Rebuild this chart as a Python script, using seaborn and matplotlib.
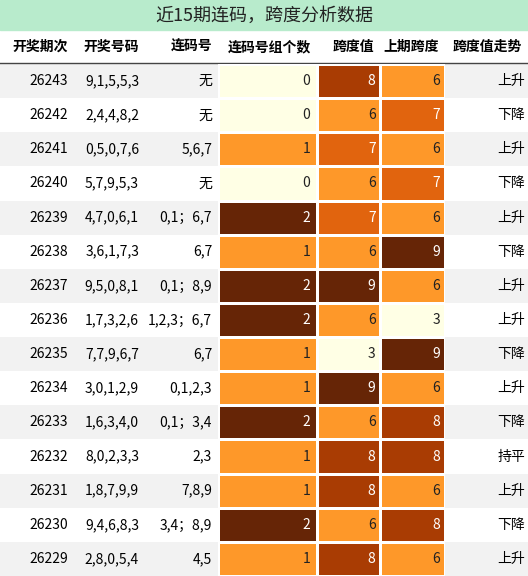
import numpy as np
import pandas as pd
import matplotlib
matplotlib.use("Agg")
import matplotlib.pyplot as plt
import seaborn as sns

plt.rcParams['font.family'] = ['Noto Sans CJK SC', 'DejaVu Sans']

title = "近15期连码，跨度分析数据"
headers = ["开奖期次", "开奖号码", "连码号", "连码号组个数", "跨度值", "上期跨度", "跨度值走势"]

issues = ["26243", "26242", "26241", "26240", "26239", "26238", "26237", "26236",
          "26235", "26234", "26233", "26232", "26231", "26230", "26229"]
draws = ["9,1,5,5,3", "2,4,4,8,2", "0,5,0,7,6", "5,7,9,5,3", "4,7,0,6,1", "3,6,1,7,3",
         "9,5,0,8,1", "1,7,3,2,6", "7,7,9,6,7", "3,0,1,2,9", "1,6,3,4,0", "8,0,2,3,3",
         "1,8,7,9,9", "9,4,6,8,3", "2,8,0,5,4"]
runs = ["无", "无", "5,6,7", "无", "0,1；6,7", "6,7", "0,1；8,9", "1,2,3；6,7",
        "6,7", "0,1,2,3", "0,1；3,4", "2,3", "7,8,9", "3,4；8,9", "4,5"]
run_groups = [0, 0, 1, 0, 2, 1, 2, 2, 1, 1, 2, 1, 1, 2, 1]
spans = [8, 6, 7, 6, 7, 6, 9, 6, 3, 9, 6, 8, 8, 6, 8]
prev_spans = [6, 7, 6, 7, 6, 9, 6, 3, 9, 6, 8, 8, 6, 8, 6]
trends = ["上升", "下降", "上升", "下降", "上升", "下降", "上升", "上升",
          "下降", "上升", "下降", "持平", "上升", "下降", "上升"]

W, H = 528, 576
edges = [0, 74, 145, 218, 317, 380, 445, 528]
title_h, head_bot = 30, 64
n = len(issues)
row_h = (H - head_bot) / n

fig = plt.figure(figsize=(W / 100, H / 100), dpi=100)
ax = fig.add_axes([0, 0, 1, 1])
ax.set_xlim(0, W)
ax.set_ylim(H, 0)
ax.axis("off")

# title bar
ax.add_patch(plt.Rectangle((0, 0), W, title_h, color="#b8ebcc"))
ax.text(W / 2, title_h / 2 + 1, title, ha="center", va="center", fontsize=13, color="#222222")

# header
for i, h in enumerate(headers):
    ax.text(edges[i + 1] - 6, (title_h + head_bot) / 2, h, ha="right", va="center",
            fontsize=10, fontweight="bold")
ax.plot([0, W], [head_bot - 1, head_bot - 1], color="#444444", lw=1)

# text columns background + text
text_cols = {0: issues, 1: draws, 2: runs, 6: trends}
for r in range(n):
    y0 = head_bot + r * row_h
    bg = "#f2f2f2" if r % 2 == 0 else "white"
    for c, vals in text_cols.items():
        ax.add_patch(plt.Rectangle((edges[c], y0), edges[c + 1] - edges[c], row_h,
                                   color=bg, lw=0))
        if c == 6:
            ax.text((edges[c] + edges[c + 1]) / 2 + 25, y0 + row_h / 2, vals[r],
                    ha="center", va="center", fontsize=10)
        else:
            ax.text(edges[c + 1] - 6, y0 + row_h / 2, vals[r], ha="right", va="center",
                    fontsize=10)

# heatmap columns
cmap = plt.get_cmap("YlOrBr")
for c, vals in [(3, run_groups), (4, spans), (5, prev_spans)]:
    x0, x1 = edges[c], edges[c + 1]
    hax = fig.add_axes([x0 / W, 0, (x1 - x0) / W, (H - head_bot) / H])
    df = pd.DataFrame({headers[c]: vals})
    vmin, vmax = (0, 2) if c == 3 else (3, 9)
    sns.heatmap(df, ax=hax, cmap=cmap, vmin=vmin, vmax=vmax, cbar=False,
                linewidths=1, linecolor="white", xticklabels=False, yticklabels=False)
    for r, v in enumerate(vals):
        frac = (v - vmin) / (vmax - vmin)
        hax.text(0.93, r + 0.5, str(v), ha="right", va="center", fontsize=10,
                 color="white" if frac > 0.6 else "#222222")

fig.savefig("out.png", dpi=100)
